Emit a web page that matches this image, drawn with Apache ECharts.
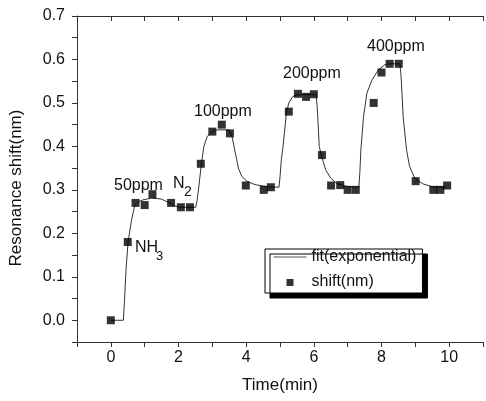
<!DOCTYPE html>
<html>
<head>
<meta charset="utf-8">
<script src="https://cdn.jsdelivr.net/npm/echarts@6/dist/echarts.min.js"></script>
<style>
  html, body { margin: 0; padding: 0; background: #fff; }
  #chart { width: 486px; height: 401px; }
</style>
</head>
<body>
<div id="chart"></div>
<script>
// measured points (min, nm)
let shiftX = [0, 0.5, 0.73, 1.0, 1.23, 1.78, 2.07, 2.34, 2.66, 3.0, 3.28, 3.52, 3.99,
  4.52, 4.73, 5.26, 5.53, 5.77, 6.0, 6.24, 6.51, 6.78, 7.0, 7.24, 7.77, 8.0, 8.24, 8.51,
  9.01, 9.53, 9.74, 9.94];
let shiftY = [0, 0.18, 0.27, 0.265, 0.29, 0.27, 0.26, 0.26, 0.36, 0.434, 0.45, 0.43, 0.31,
  0.30, 0.306, 0.48, 0.521, 0.514, 0.52, 0.38, 0.31, 0.311, 0.30, 0.30, 0.50, 0.57, 0.59, 0.59,
  0.32, 0.30, 0.30, 0.31];

// exponential fit curve
let fitX = [0, 0.37, 0.40, 0.45, 0.51, 0.61, 0.71, 0.8, 0.95, 1.2, 1.49, 1.73, 1.9, 2.02, 2.51,
  2.55, 2.59, 2.68, 2.75, 2.85, 3.0, 3.14, 3.48, 3.53, 3.58, 3.68, 3.77, 3.87, 4.02, 4.26, 4.65,
  4.97, 5.0, 5.04, 5.09, 5.19, 5.26, 5.38, 5.53, 6.06, 6.09, 6.11, 6.16, 6.23, 6.35, 6.5, 6.69,
  6.98, 7.33, 7.36, 7.39, 7.47, 7.57, 7.72, 7.91, 8.1, 8.2, 8.54, 8.57, 8.59, 8.64, 8.74, 8.83,
  8.98, 9.22, 9.51, 9.9];
let fitY = [0, 0, 0.04, 0.117, 0.18, 0.23, 0.265, 0.272, 0.277, 0.281, 0.279, 0.27, 0.263, 0.26, 0.26,
  0.275, 0.30, 0.362, 0.40, 0.423, 0.434, 0.438, 0.438, 0.435, 0.423, 0.385, 0.35, 0.331, 0.32, 0.312, 0.307,
  0.306, 0.33, 0.37, 0.40, 0.477, 0.50, 0.515, 0.519, 0.519, 0.50, 0.477, 0.40, 0.377, 0.346, 0.327, 0.314,
  0.308, 0.306, 0.34, 0.392, 0.469, 0.523, 0.553, 0.576, 0.588, 0.59, 0.59, 0.57, 0.546, 0.469, 0.392, 0.354,
  0.327, 0.314, 0.307, 0.306];

let xLabels = ["0", "2", "4", "6", "8", "10"];
let yLabels = ["0.0", "0.1", "0.2", "0.3", "0.4", "0.5", "0.6", "0.7"];
let seriesNames = ["fit(exponential)", "shift(nm)"];

let font = "'Liberation Sans', Arial, sans-serif";
let ink = "#111";
let axisColor = "#333";

function pairs(xs, ys) {
  return xs.map(function (x, i) { return [x, ys[i]]; });
}

function note(text, left, y, size) {
  return {
    type: "text",
    x: left,
    y: y,
    style: {
      text: text,
      fill: ink,
      font: size + "px " + font,
      align: "left",
      verticalAlign: "middle",
    },
    z: 10,
  };
}

let chart = echarts.init(document.getElementById("chart"));

chart.setOption({
  animation: false,
  backgroundColor: "#fff",
  grid: { left: 77, right: 0, top: 16, bottom: 59 },
  xAxis: [
    {
      type: "value",
      min: -1,
      max: 11,
      interval: 1,
      position: "bottom",
      name: "Time(min)",
      nameLocation: "middle",
      nameGap: 35,
      nameTextStyle: { color: ink, fontSize: 17, fontFamily: font },
      axisLine: { onZero: false, lineStyle: { color: axisColor, width: 1 } },
      axisTick: { inside: false, length: 5, lineStyle: { color: axisColor } },
      axisLabel: {
        margin: 8,
        color: ink,
        fontSize: 16,
        fontFamily: font,
        formatter: function (v) {
          let s = String(Math.round(v));
          return xLabels.indexOf(s) >= 0 ? s : "";
        },
      },
      splitLine: { show: false },
    },
    {
      type: "value",
      min: -1,
      max: 11,
      interval: 1,
      position: "top",
      axisLine: { onZero: false, lineStyle: { color: axisColor, width: 1 } },
      axisTick: { inside: true, length: 5, lineStyle: { color: axisColor } },
      axisLabel: { show: false },
      splitLine: { show: false },
    },
  ],
  yAxis: {
    type: "value",
    min: -0.05,
    max: 0.7,
    interval: 0.05,
    position: "left",
    name: "Resonance shift(nm)",
    nameLocation: "middle",
    nameGap: 52,
    nameTextStyle: { color: ink, fontSize: 17, fontFamily: font, padding: [0, 0, 0, -18] },
    axisLine: { onZero: false, lineStyle: { color: axisColor, width: 1 } },
    axisTick: { inside: false, length: 5, lineStyle: { color: axisColor } },
    axisLabel: {
      margin: 12,
      color: ink,
      fontSize: 16,
      fontFamily: font,
      formatter: function (v) {
        let t = v.toFixed(1);
        return Math.abs(v - Number(t)) < 1e-6 && yLabels.indexOf(t) >= 0 ? t : "";
      },
    },
    splitLine: { show: false },
  },
  legend: {
    orient: "vertical",
    left: 265,
    top: 249,
    backgroundColor: "#fff",
    borderColor: "#000",
    borderWidth: 1,
    borderRadius: 0,
    shadowColor: "#000",
    shadowBlur: 0,
    shadowOffsetX: 5,
    shadowOffsetY: 5,
    padding: [0, 6, 3, 8],
    itemGap: 9,
    itemWidth: 33,
    itemHeight: 14,
    symbolKeepAspect: true,
    lineStyle: { color: "#555", width: 1 },
    textStyle: { color: ink, fontSize: 16, fontFamily: font },
    data: [
      { name: seriesNames[0], itemStyle: { opacity: 0 } },
      {
        name: seriesNames[1],
        icon: "path://M0,0 M33,14 M13,4 L20,4 L20,11 L13,11 Z",
        itemStyle: { color: "#000" },
      },
    ],
  },
  graphic: [
    note("50ppm", 114, 186, 16),
    note("N", 173, 184, 16),
    note("2", 184, 192, 14),
    note("NH", 135, 248, 16),
    note("3", 156, 256, 13),
    note("100ppm", 194, 112, 16),
    note("200ppm", 283, 74, 16),
    note("400ppm", 367, 47, 16),
  ],
  series: [
    {
      name: seriesNames[0],
      type: "line",
      symbol: "none",
      smooth: false,
      color: "#333",
      lineStyle: { color: "#333", width: 1 },
      data: pairs(fitX, fitY),
      z: 2,
    },
    {
      name: seriesNames[1],
      type: "scatter",
      symbol: "rect",
      symbolSize: 8,
      itemStyle: { color: "#000" },
      data: pairs(shiftX, shiftY),
      z: 3,
    },
  ],
});
</script>
</body>
</html>
